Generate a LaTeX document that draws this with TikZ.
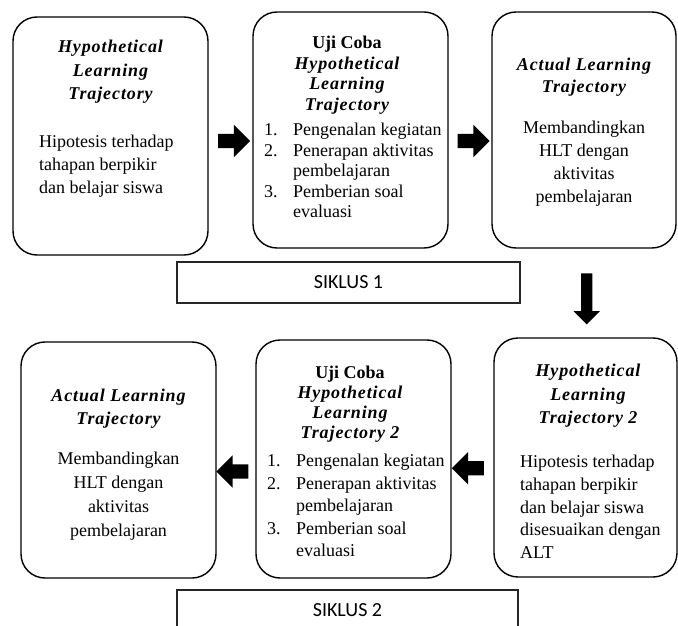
\documentclass[tikz,border=0pt]{standalone}
\usepackage{fontspec}
\setmainfont{Liberation Serif}[BoldItalicFeatures={LetterSpace=5}]
\newfontfamily\siklusfont{Carlito}
\usetikzlibrary{shapes.arrows,calc}

\begin{document}
\begin{tikzpicture}[x=1pt,y=-1pt,
  stage/.style={draw,line width=1.4pt,rounded corners=24pt,inner sep=0pt},
  cyclebox/.style={draw=black!85,line width=1.3pt,inner sep=0pt,font=\siklusfont\fontsize{20}{24}\selectfont},
  body/.style={inner sep=0pt,font=\fontsize{18}{#1}\selectfont},
  body/.default=23,
  ttl/.style={inner sep=0pt,align=center,font=\fontsize{18}{#1}\selectfont\bfseries\itshape},
  ttl/.default=23,
  fatarrow/.style={single arrow,fill=black,inner sep=0pt,text height=7pt,text depth=7pt,
    minimum height=32pt,single arrow head extend=9pt,single arrow head indent=0pt}]
  \useasboundingbox (0,0) rectangle (678,626);

  % Siklus 1
  \node[stage,minimum width=195pt,minimum height=238pt] (hlt1) at (110.5,136) {};
  \node[stage,minimum width=195pt,minimum height=236pt] (uji1) at (350.5,130) {};
  \node[stage,minimum width=184pt,minimum height=236pt] (alt1) at (584,130) {};
  \node[cyclebox,minimum width=343pt,minimum height=41pt] (siklus1) at (348.5,282.5) {SIKLUS 1};

  \node[ttl=23.5,anchor=north] (hlt1t) at (110.5,40) {Hypothetical\\Learning\\Trajectory};
  \node[body,anchor=north west,align=left] (hlt1b) at (39,135)
    {Hipotesis terhadap\\tahapan berpikir\\dan belajar siswa};

  \node[ttl=20.5,anchor=north] (uji1t) at (347,36) {\upshape Uji Coba\\Hypothetical\\Learning\\Trajectory};
  \node[body=20.5,anchor=north west,align=left] (uji1b) at (264,123)
    {\makebox[29pt][l]{1.}Pengenalan kegiatan\\
     \makebox[29pt][l]{2.}Penerapan aktivitas\\
     \hspace*{29pt}pembelajaran\\
     \makebox[29pt][l]{3.}Pemberian soal\\
     \hspace*{29pt}evaluasi};

  \node[ttl=22,anchor=north] (alt1t) at (584,58) {Actual Learning\\Trajectory};
  \node[body,anchor=north,align=center] (alt1b) at (584,121)
    {Membandingkan\\HLT dengan\\aktivitas\\pembelajaran};

  % Siklus 2
  \node[stage,minimum width=183pt,minimum height=239pt] (hlt2) at (585.5,457.5) {};
  \node[stage,minimum width=195pt,minimum height=238pt] (uji2) at (353.5,459) {};
  \node[stage,minimum width=195pt,minimum height=236pt] (alt2) at (118.5,460) {};
  \node[cyclebox,minimum width=341pt,minimum height=41pt] (siklus2) at (347.5,610.5) {SIKLUS 2};

  \node[ttl=23.5,anchor=north] (hlt2t) at (588,364) {Hypothetical\\Learning\\Trajectory 2};
  \node[body=22.7,anchor=north west,align=left] (hlt2b) at (520,455)
    {Hipotesis terhadap\\tahapan berpikir\\dan belajar siswa\\disesuaikan dengan\\ALT};

  \node[ttl=20,anchor=north] (uji2t) at (350,366) {\upshape Uji Coba\\Hypothetical\\Learning\\Trajectory 2};
  \node[body=22.5,anchor=north west,align=left] (uji2b) at (267,454)
    {\makebox[29pt][l]{1.}Pengenalan kegiatan\\
     \makebox[29pt][l]{2.}Penerapan aktivitas\\
     \hspace*{29pt}pembelajaran\\
     \makebox[29pt][l]{3.}Pemberian soal\\
     \hspace*{29pt}evaluasi};

  \node[ttl=23,anchor=north] (alt2t) at (118.5,389) {Actual Learning\\Trajectory};
  \node[body=24,anchor=north,align=center] (alt2b) at (118.5,452)
    {Membandingkan\\HLT dengan\\aktivitas\\pembelajaran};

  % Arrows
  \node[fatarrow] (a1) at ($(hlt1.east)!.5!(uji1.west)+(0,8)$) {};
  \node[fatarrow] (a2) at ($(uji1.east)!.5!(alt1.west)+(0,11)$) {};
  \node[fatarrow,text height=5.5pt,text depth=5.5pt,minimum height=51pt,single arrow head extend=7.5pt,
    rotate=-90] (a3) at ($(alt1.south)!.5!(hlt2.north)+(2,3)$) {};
  \node[fatarrow,rotate=180] (a4) at ($(hlt2.west)!.5!(uji2.east)+(-1,10)$) {};
  \node[fatarrow,rotate=180] (a5) at ($(uji2.west)!.5!(alt2.east)+(0,12)$) {};
\end{tikzpicture}
\end{document}
